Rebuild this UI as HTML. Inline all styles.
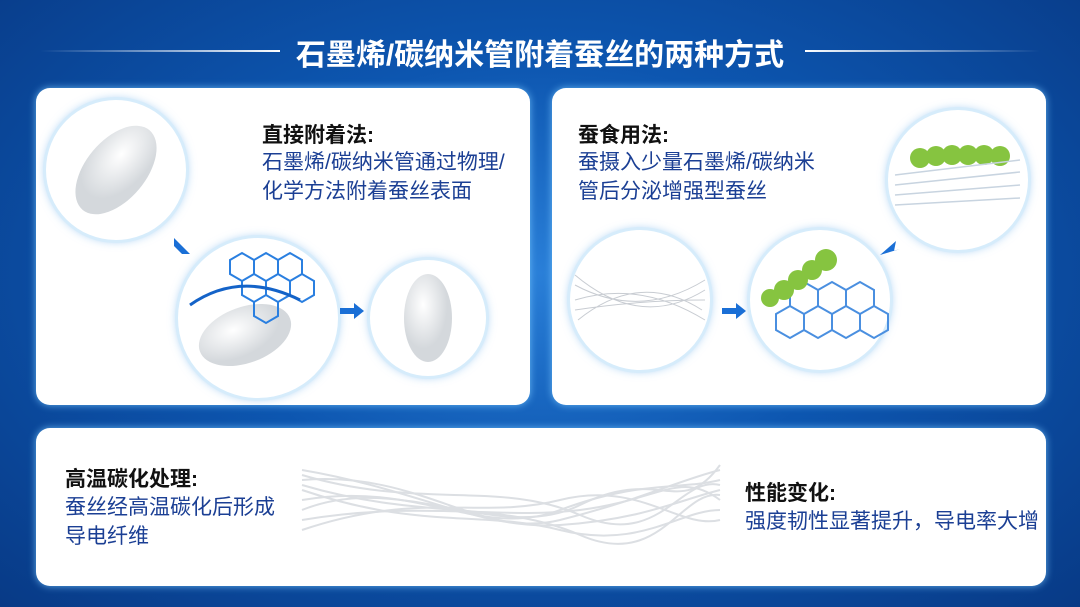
<!DOCTYPE html>
<html><head><meta charset="utf-8"><style>
body{margin:0;width:1080px;height:607px;overflow:hidden;font-family:"Liberation Sans","Noto Sans CJK SC",sans-serif;
background:radial-gradient(ellipse at 50% 45%,#2a7fd8 0%,#0d56b0 45%,#083a86 100%);position:relative}
.p{position:absolute;background:#fff;border-radius:14px;box-shadow:0 0 8px rgba(120,200,255,.8)}
.t{position:absolute;white-space:nowrap}
.h{font-size:21px;font-weight:bold;color:#111}
.b{font-size:21px;color:#1b3f94;line-height:29px}
.c{position:absolute;border-radius:50%;background:#fff;box-shadow:0 0 0 3px #d6ecfb,0 0 10px rgba(60,150,230,.6)}
</style></head><body>
<div class="t" style="left:0;width:1080px;text-align:center;top:30px;font-size:30px;font-weight:bold;color:#fff">石墨烯/碳纳米管附着蚕丝的两种方式</div>
<div style="position:absolute;left:40px;top:50px;width:240px;height:2px;background:linear-gradient(90deg,rgba(255,255,255,0),#fff)"></div>
<div style="position:absolute;left:805px;top:50px;width:235px;height:2px;background:linear-gradient(90deg,#fff,rgba(255,255,255,0))"></div>

<div class="p" style="left:36px;top:88px;width:494px;height:317px"></div>
<div class="p" style="left:552px;top:88px;width:494px;height:317px"></div>
<div class="p" style="left:36px;top:428px;width:1010px;height:158px"></div>

<div class="t h" style="left:262px;top:119px">直接附着法:</div>
<div class="t b" style="left:262px;top:148px">石墨烯/碳纳米管通过物理/<br>化学方法附着蚕丝表面</div>
<div class="t h" style="left:578px;top:119px">蚕食用法:</div>
<div class="t b" style="left:578px;top:148px">蚕摄入少量石墨烯/碳纳米<br>管后分泌增强型蚕丝</div>
<div class="t h" style="left:65px;top:463px">高温碳化处理:</div>
<div class="t b" style="left:65px;top:493px">蚕丝经高温碳化后形成<br>导电纤维</div>
<div class="t h" style="left:745px;top:477px">性能变化:</div>
<div class="t b" style="left:745px;top:507px">强度韧性显著提升，导电率大增</div>
<div class="t" style="left:934px;top:555px;font-size:20px;font-weight:bold;color:rgba(255,255,255,.85)">豆包AI生成</div>

<div class="c" style="left:46px;top:100px;width:140px;height:140px"></div>
<div class="c" style="left:178px;top:238px;width:160px;height:160px"></div>
<div class="c" style="left:370px;top:260px;width:116px;height:116px"></div>
<div class="c" style="left:570px;top:230px;width:140px;height:140px"></div>
<div class="c" style="left:750px;top:230px;width:140px;height:140px"></div>
<div class="c" style="left:888px;top:110px;width:140px;height:140px"></div>

<svg style="position:absolute;left:0;top:0" width="1080" height="607">
<defs><radialGradient id="w" cx="40%" cy="35%"><stop offset="0" stop-color="#fff"/><stop offset="1" stop-color="#d4d8dc"/></radialGradient></defs>
<ellipse cx="116" cy="170" rx="30" ry="52" transform="rotate(40 116 170)" fill="url(#w)"/>
<ellipse cx="245" cy="335" rx="48" ry="28" transform="rotate(-20 245 335)" fill="url(#w)"/>
<g stroke="#2a7fe0" stroke-width="2" fill="none">
<path d="M230 260 l12 -7 l12 7 v14 l-12 7 l-12 -7z M254 260 l12 -7 l12 7 v14 l-12 7 l-12 -7z M278 260 l12 -7 l12 7 v14 l-12 7 l-12 -7z M242 281 l12 -7 l12 7 v14 l-12 7 l-12 -7z M266 281 l12 -7 l12 7 v14 l-12 7 l-12 -7z M290 281 l12 -7 l12 7 v14 l-12 7 l-12 -7z M254 302 l12 -7 l12 7 v14 l-12 7 l-12 -7z"/>
<path d="M190 305 Q240 270 300 300" stroke="#1463c8" stroke-width="3"/>
</g>
<ellipse cx="428" cy="318" rx="24" ry="44" fill="url(#w)"/>
<g stroke="#c8ccd2" stroke-width="1" fill="none">
<path d="M575 285 Q640 320 705 280 M575 300 Q640 280 705 320 M575 310 Q640 300 705 300 M575 275 Q640 330 705 290 M578 320 Q640 270 702 310"/>
</g>
<g stroke="#4a8fe0" stroke-width="2" fill="none">
<path d="M790 290 l14 -8 l14 8 v16 l-14 8 l-14 -8z M818 290 l14 -8 l14 8 v16 l-14 8 l-14 -8z M846 290 l14 -8 l14 8 v16 l-14 8 l-14 -8z M776 314 l14 -8 l14 8 v16 l-14 8 l-14 -8z M804 314 l14 -8 l14 8 v16 l-14 8 l-14 -8z M832 314 l14 -8 l14 8 v16 l-14 8 l-14 -8z M860 314 l14 -8 l14 8 v16 l-14 8 l-14 -8z"/>
</g>
<g fill="#86c440"><circle cx="770" cy="298" r="9"/><circle cx="784" cy="290" r="10"/><circle cx="798" cy="280" r="10"/><circle cx="812" cy="270" r="10"/><circle cx="826" cy="260" r="11"/>
<circle cx="920" cy="158" r="10"/><circle cx="936" cy="156" r="10"/><circle cx="952" cy="155" r="10"/><circle cx="968" cy="155" r="10"/><circle cx="984" cy="155" r="10"/><circle cx="1000" cy="156" r="10"/></g>
<g stroke="#c8d4e0" stroke-width="1.5"><path d="M895 175 L1020 160 M895 185 L1020 172 M895 195 L1020 185 M895 205 L1020 198"/></g>
<g fill="#1a6fd6"><path d="M174 238 l16 16 h-8 l-8 -8z"/><path d="M340 308 h14 v-5 l10 8 l-10 8 v-5 h-14z"/><path d="M722 308 h14 v-5 l10 8 l-10 8 v-5 h-14z"/><path d="M880 255 l16 -14 l-2 10 l6 -2z"/></g>
<g stroke="#dcdfe3" stroke-width="2" fill="none">
<path d="M302 480 C420 470 480 540 560 520 S680 480 720 470"/><path d="M302 500 C420 480 480 540 560 510 S680 490 720 480"/><path d="M302 470 C420 490 480 530 560 525 S680 500 720 490"/><path d="M302 520 C420 500 500 520 580 510 S680 470 720 500"/><path d="M302 490 C420 530 480 510 560 530 S680 510 720 510"/><path d="M302 510 C400 470 500 545 580 505 S680 520 720 465"/>
<path d="M302 485 C420 520 500 500 580 535 S680 490 720 495"/><path d="M302 530 C420 490 480 520 560 500 S680 530 720 520"/><path d="M302 475 C420 510 500 480 580 515 S680 475 720 485"/>
</g>
</svg>
</body></html>
